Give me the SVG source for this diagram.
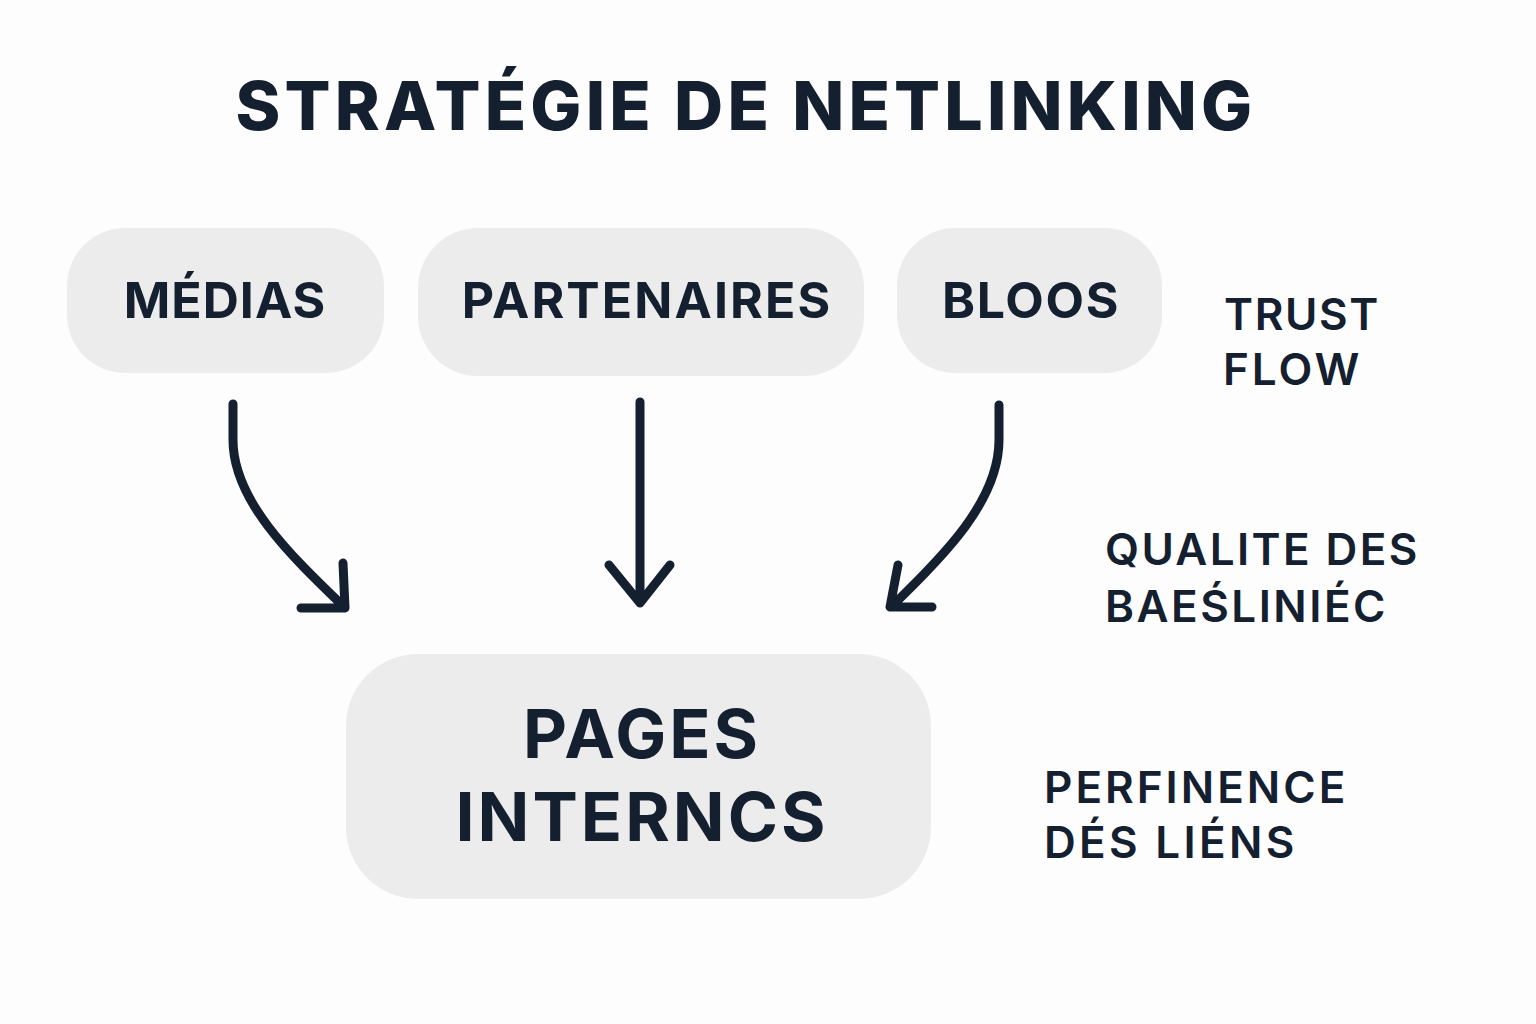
<svg xmlns="http://www.w3.org/2000/svg" width="1536" height="1024" viewBox="0 0 1536 1024">
<style>
text{font-family:"Inter","Liberation Sans",sans-serif;fill:#14202f;text-anchor:middle}
.n{fill:#ececed}
.t{font-weight:700;font-size:50px}
.s{font-weight:600;font-size:44px;text-anchor:start;letter-spacing:2.5px}
.b{font-size:68px;font-weight:700;letter-spacing:3px}
.c{fill:none;stroke:#14202f;stroke-width:9;stroke-linecap:round;stroke-linejoin:round}
</style>
<rect width="1536" height="1024" fill="#fdfdfe"/>
<g id="title"><text x="746" y="130" font-size="68" font-weight="800" letter-spacing="4.2">STRATÉGIE DE NETLINKING</text></g>
<g id="medias"><rect class="n" x="67" y="228" width="317" height="145" rx="58"/><text class="t" x="225" y="318" letter-spacing="1">MÉDIAS</text></g>
<g id="partenaires"><rect class="n" x="418" y="228" width="446" height="148" rx="60"/><text class="t" x="647" y="318" letter-spacing="2.1">PARTENAIRES</text></g>
<g id="bloos"><rect class="n" x="897" y="228" width="265" height="145" rx="58"/><text class="t" x="1031" y="318" letter-spacing="1.7">BLOOS</text></g>
<g id="pages"><rect class="n" x="346" y="654" width="585" height="245" rx="72"/><text class="b" x="642" y="758">PAGES</text><text class="b" x="642" y="841">INTERNCS</text></g>
<g id="trust"><text class="s" x="1224" y="330" font-size="42" style="letter-spacing:1.6px">TRUST</text><text class="s" x="1223" y="385" style="letter-spacing:3px">FLOW</text></g>
<g id="qualite"><text class="s" x="1105" y="565" style="letter-spacing:2.4px">QUALITE DES</text><text class="s" x="1105" y="622" style="letter-spacing:2.5px">BAEŚLINIÉC</text></g>
<g id="perfinence"><text class="s" x="1044" y="803" style="letter-spacing:3px">PERFINENCE</text><text class="s" x="1044" y="858" style="letter-spacing:3.3px">DÉS LIÉNS</text></g>
<g id="connectors">
<path class="c" d="M233 404V440C233 500 290 555 343 606M343 563L345 608L301 608"/>
<path class="c" d="M640 402V603M609 565L640 603L670 565"/>
<path class="c" d="M999 405V440C999 500 945 555 892 606M898 565L890 607L932 607"/>
</g>
</svg>
